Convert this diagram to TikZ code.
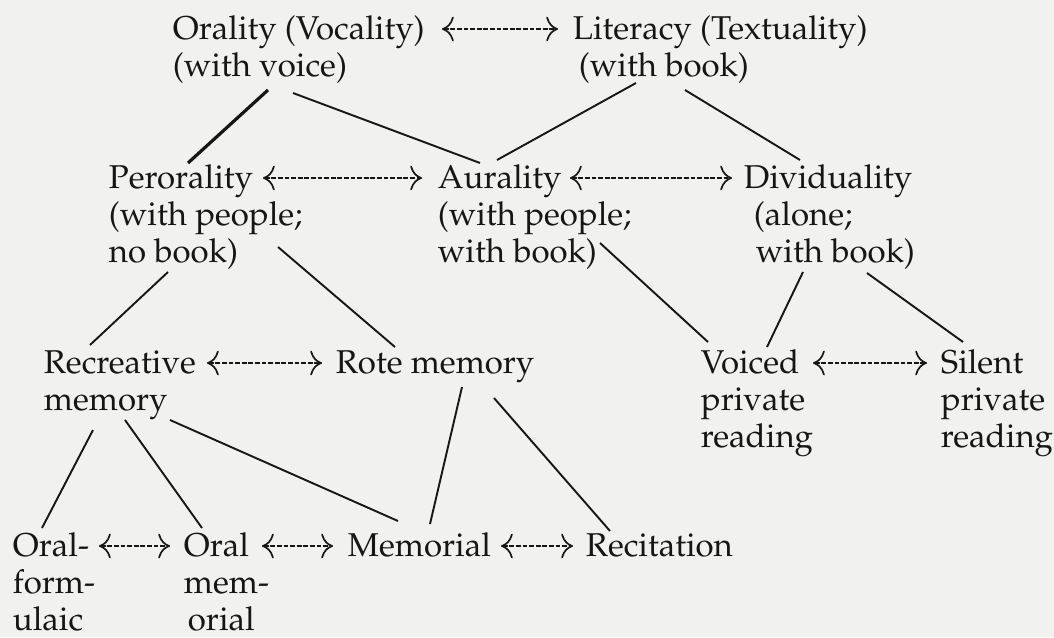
\documentclass[tikz,border=0pt]{standalone}
\usepackage[T1]{fontenc}
\renewcommand{\rmdefault}{ppl}
\usetikzlibrary{arrows.meta}
\definecolor{paper}{RGB}{241,241,239}
\definecolor{ink}{RGB}{22,22,22}

\begin{document}
\begin{tikzpicture}[x=0.5pt, y=-0.5pt, line width=0.95pt, color=ink]
          \tikzstyle{every node}=[font=\fontsize{16.5}{18.5}\selectfont, inner sep=0pt, anchor=base west, align=left]
          \tikzstyle{pair}=[line width=0.85pt, dash pattern=on 2.4pt off 0.9pt, arrows={Computer Modern Rightarrow[scale=1.7]-Computer Modern Rightarrow[scale=1.7]}]
          \useasboundingbox (0,0) rectangle (1054,637);
          \fill[paper] (0,0) rectangle (1054,637);
          % top row (nodes sit on the baseline of their last line)
            \node (oral) at (172, 76) {Orality (Vocality)\\(with voice)};
            \node (liter) at (572, 76) {Literacy (Textuality)\\\hspace{3pt}(with book)};
          % second row
            \node (peror) at (108, 262) {Perorality\\(with people;\\no book)};
            \node (aural) at (437, 262) {Aurality\\(with people;\\with book)};
            \node (divid) at (743, 262) {Dividuality\\\hspace{5pt}(alone;\\\hspace{6pt}with book)};
          % third row
            \node (recre) at (43, 410) {Recreative\\memory};
            \node (rote) at (335, 373) {Rote memory};
            \node (voiced) at (700, 447) {Voiced\\private\\reading};
            \node (silent) at (940, 447) {Silent\\private\\reading};
          % bottom row
            \node (formul) at (12, 630) {Oral-\\form-\\ulaic};
            \node (oralmem) at (183, 630) {Oral\\mem-\\\hspace{2pt}orial};
            \node (memor) at (347, 556) {Memorial};
            \node (recit) at (585, 556) {Recitation};

            % dashed pairs
            \draw[pair] ([shift={(270,-47)}]oral.base west) -- ([shift={(-14,-47)}]liter.base west);
            \draw[pair] ([shift={(155,-84)}]peror.base west) -- ([shift={(-15,-84)}]aural.base west);
            \draw[pair] ([shift={(133,-84)}]aural.base west) -- ([shift={(-11,-84)}]divid.base west);
            \draw[pair] ([shift={(164,-47)}]recre.base west) -- ([shift={(-13,-10)}]rote.base west);
            \draw[pair] ([shift={(113,-84)}]voiced.base west) -- ([shift={(-13,-84)}]silent.base west);
            \draw[pair] ([shift={(87,-84)}]formul.base west) -- ([shift={(-13,-84)}]oralmem.base west);
            \draw[pair] ([shift={(79,-84)}]oralmem.base west) -- ([shift={(-14,-10)}]memor.base west);
            \draw[pair] ([shift={(154,-10)}]memor.base west) -- ([shift={(-12,-10)}]recit.base west);

            % links
            \draw[line width=1.6pt] ([shift={(96,14)}]oral.base west) -- ([shift={(80,-99)}]peror.base west);
            \draw ([shift={(121,17)}]oral.base west) -- ([shift={(43,-99)}]aural.base west);
            \draw ([shift={(64,7)}]liter.base west) -- ([shift={(60,-102)}]aural.base west);
            \draw ([shift={(113,14)}]liter.base west) -- ([shift={(57,-102)}]divid.base west);
            \draw ([shift={(60,10)}]peror.base west) -- ([shift={(47,-65)}]recre.base west);
            \draw ([shift={(170,-15)}]peror.base west) -- ([shift={(60,-26)}]rote.base west);
            \draw ([shift={(163,-19)}]aural.base west) -- ([shift={(8,-105)}]voiced.base west);
            \draw ([shift={(60,10)}]divid.base west) -- ([shift={(67,-100)}]voiced.base west);
            \draw ([shift={(124,11)}]divid.base west) -- ([shift={(23,-105)}]silent.base west);
            \draw ([shift={(50,20)}]recre.base west) -- ([shift={(30,-102)}]formul.base west);
            \draw ([shift={(82,10)}]recre.base west) -- ([shift={(19,-102)}]oralmem.base west);
            \draw ([shift={(127,10)}]recre.base west) -- ([shift={(51,-35)}]memor.base west);
            \draw ([shift={(127,14)}]rote.base west) -- ([shift={(83,-32)}]memor.base west);
            \draw ([shift={(159,25)}]rote.base west) -- ([shift={(25,-25)}]recit.base west);
\end{tikzpicture}
\end{document}
